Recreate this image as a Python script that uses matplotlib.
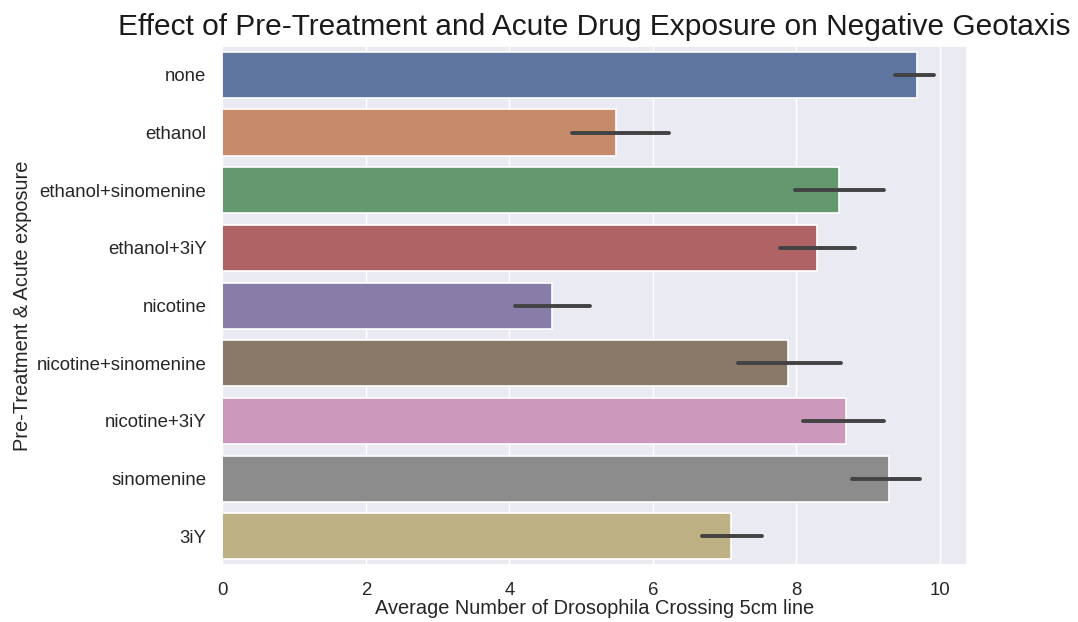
import matplotlib
matplotlib.use("Agg")
import matplotlib.pyplot as plt
import seaborn as sns

# Treatment groups and summary statistics (mean with 95% CI bounds)
groups = ["none", "ethanol", "ethanol+sinomenine", "ethanol+3iY", "nicotine",
          "nicotine+sinomenine", "nicotine+3iY", "sinomenine", "3iY"]
means = [9.69, 5.49, 8.59, 8.29, 4.59, 7.89, 8.69, 9.29, 7.09]
ci_low = [9.38, 4.88, 7.98, 7.78, 4.08, 7.19, 8.09, 8.78, 6.68]
ci_high = [9.92, 6.22, 9.23, 8.82, 5.12, 8.62, 9.23, 9.73, 7.52]

title = "Effect of Pre-Treatment and Acute Drug Exposure on Negative Geotaxis"
xlabel = "Average Number of Drosophila Crossing 5cm line"
ylabel = "Pre-Treatment & Acute exposure"

sns.set_theme(style="darkgrid")
plt.rcParams["font.family"] = ["Liberation Sans", "DejaVu Sans"]

colors = sns.color_palette("deep", len(groups), desat=0.65)

fig = plt.figure(figsize=(10.78, 6.22), dpi=100)
ax = fig.add_axes([0.2064, 0.0913, 0.6906, 0.8347])

pos = list(range(len(groups)))
ax.barh(pos, means, height=0.8, color=colors, edgecolor="white", linewidth=1.2, zorder=2)
ax.hlines(pos, ci_low, ci_high, color="#424242", linewidth=2.8, capstyle="round", zorder=3)

ax.set_yticks(pos)
ax.set_yticklabels(groups)
ax.set_ylim(len(groups) - 0.5, -0.5)
ax.set_xlim(0, 10.38)
ax.set_xticks([0, 2, 4, 6, 8, 10])
ax.tick_params(axis="both", labelsize=13.4, colors="#262626")
ax.tick_params(axis="y", pad=5.5)
ax.tick_params(axis="x", pad=6)
ax.grid(axis="y", visible=False)

ax.set_title(title, fontsize=21.5, pad=8, color="#1a1a1a")
ax.set_xlabel(xlabel, fontsize=14.4, color="#262626", labelpad=0)
ax.set_ylabel(ylabel, fontsize=14.4, color="#262626", labelpad=3)

fig.savefig("out.png", dpi=100, facecolor="white")
